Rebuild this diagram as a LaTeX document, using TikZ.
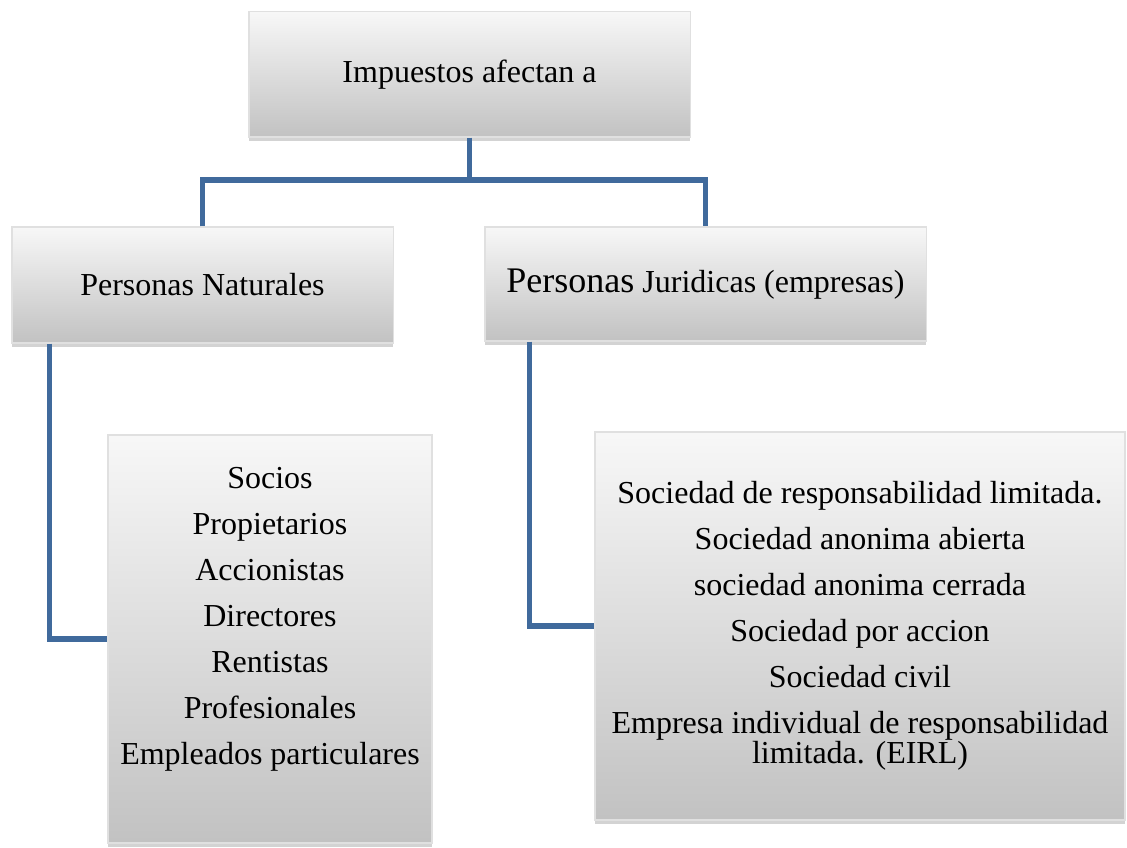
\documentclass[tikz,border=0pt]{standalone}
\usepackage{fontspec}
\setmainfont{Liberation Serif}
\usepackage{tikz}
\usetikzlibrary{calc,shadows}
\definecolor{linkblue}{RGB}{64,106,156}

\begin{document}
\begin{tikzpicture}[x=0.75pt,y=-0.75pt,
    box/.style={draw=black!12, line width=0.8pt, top color=black!3, bottom color=black!24,
        drop shadow={shadow xshift=0pt, shadow yshift=-3pt, opacity=0.35},
        align=center, inner sep=0pt, font=\fontsize{24}{34.5}\selectfont},
    link/.style={draw=linkblue, line width=3.8pt}]
        \useasboundingbox (0,0) rectangle (1127,848);

        % boxes
        \node[box, minimum width=330.8pt, minimum height=93.8pt] (imp) at (469.5,74.5) {Impuestos afectan a};
        \node[box, minimum width=285.8pt, minimum height=87pt] (nat) at (202.5,285) {Personas Naturales};
        \node[box, minimum width=330.8pt, minimum height=85.5pt] (jur) at (705.5,284)
            {{\fontsize{27}{30}\selectfont Personas} Juridicas (empresas)};
        \node[box, minimum width=243pt, minimum height=306pt] (natlist) at (270,639)
            {Socios\\ Propietarios\\ Accionistas\\ Directores\\ Rentistas\\ Profesionales\\ Empleados particulares\\ \mbox{}};
        \node[box, minimum width=397.5pt, minimum height=291pt] (jurlist) at (860,626)
            {Sociedad de responsabilidad limitada.\\ Sociedad anonima abierta\\ sociedad anonima cerrada\\
             Sociedad por accion\\ Sociedad civil\\ Empresa individual de responsabilidad\\[-12pt] limitada. (EIRL)};

        % connectors
        \coordinate (split) at (469.5,180);
        \draw[link] (imp.south) -- (split);
        \draw[link] (nat.north) |- (split) -| (jur.north);
        \draw[link] ([xshift=28.5pt]nat.south west) |- (natlist.west);
        \draw[link] ([xshift=33.75pt]jur.south west) |- (jurlist.west);
    \end{tikzpicture}
\end{document}
